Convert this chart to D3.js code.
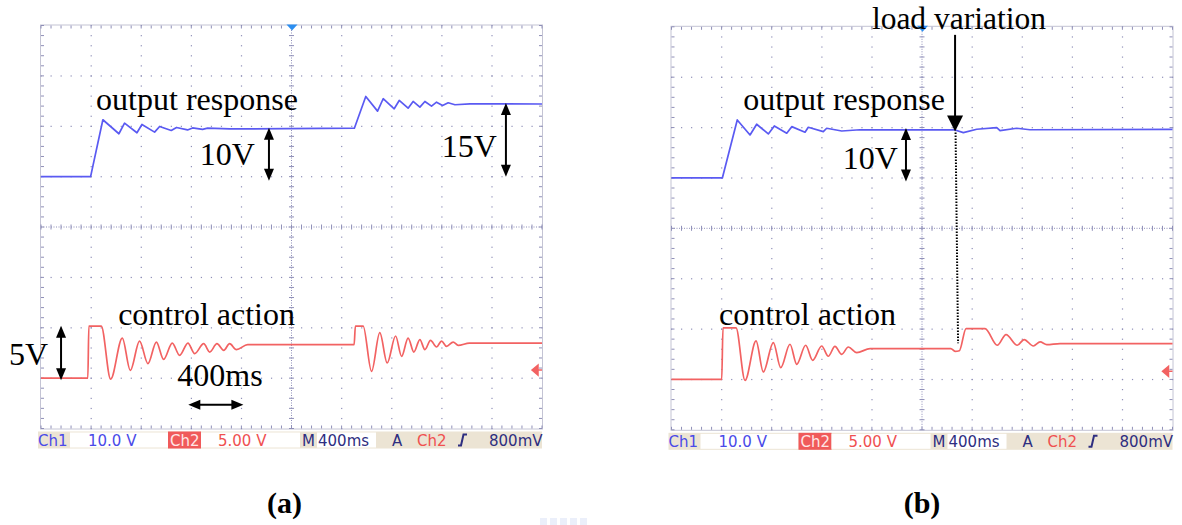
<!DOCTYPE html>
<html>
<head>
<meta charset="utf-8">
<script src="https://cdn.jsdelivr.net/npm/d3@7"></script>
<style>
  body { margin: 0; background: #fff; }
  svg { display: block; }
</style>
</head>
<body>
<svg id="chart"></svg>
<script>
var width = 1182, height = 525;

// time in ms (400 ms/div), ch1 in volts (10 V/div), ch2 in volts (5 V/div)
var ch1TimeA = [0, 396, 494, 622, 667, 766, 806, 907, 947, 1040, 1082, 1170, 1210, 1290, 1330, 1506, 2502, 2593, 2687, 2732, 2820, 2860, 2931, 2971, 3025, 3065, 3118, 3158, 3206, 3251, 3305, 3425, 4000];
var ch1VoltA = [0, 0, 11.29, 8.51, 10.61, 8.71, 10.36, 8.83, 9.96, 9.17, 9.76, 9.27, 9.66, 9.37, 9.62, 9.46, 9.62, 15.91, 13.0, 15.46, 13.47, 15.12, 13.59, 14.92, 13.79, 14.92, 13.99, 14.78, 14.13, 14.66, 14.27, 14.46, 14.42];

var ch2TimeA = [0, 374, 382, 481, 556, 649, 713, 787, 854, 921, 979, 1048, 1107, 1173, 1227, 1299, 1347, 1405, 1459, 1506, 1560, 1650, 2500, 2510, 2572, 2639, 2705, 2764, 2831, 2879, 2931, 2977, 3025, 3065, 3110, 3158, 3198, 3238, 3291, 3331, 3420, 4000];
var ch2VoltA = [0, 0, 5.17, 5.17, -0.1, 3.98, 0.77, 3.68, 1.44, 3.58, 1.87, 3.48, 2.26, 3.48, 2.43, 3.42, 2.59, 3.42, 2.76, 3.42, 2.83, 3.32, 3.32, 5.17, 5.17, 0.67, 4.51, 1.50, 4.18, 2.16, 3.98, 2.59, 3.82, 2.83, 3.75, 3.09, 3.68, 3.15, 3.58, 3.25, 3.48, 3.48];

var ch1TimeB = [0, 406, 525, 627, 680, 773, 821, 920, 960, 1066, 1092, 1212, 1239, 1359, 1505, 2264, 2330, 2437, 2597, 2623, 2756, 2862, 4000];
var ch1VoltB = [0, 0, 11.51, 8.53, 10.66, 8.73, 10.32, 8.87, 10.18, 9.07, 10.06, 9.18, 9.86, 9.32, 9.56, 9.52, 8.99, 9.66, 9.98, 9.38, 9.86, 9.56, 9.62];

var ch2TimeB = [0, 401, 411, 515, 587, 675, 733, 813, 872, 946, 1000, 1071, 1127, 1199, 1252, 1305, 1359, 1412, 1479, 1585, 2230, 2264, 2298, 2352, 2503, 2601, 2671, 2761, 2815, 2889, 2943, 2996, 3102, 4000];
var ch2VoltB = [0, 0, 5.11, 5.11, -0.1, 3.82, 0.74, 3.66, 1.17, 3.49, 1.50, 3.39, 1.90, 3.32, 2.30, 3.29, 2.49, 3.22, 2.66, 3.06, 3.06, 2.79, 2.85, 5.05, 5.05, 3.39, 4.45, 3.39, 3.96, 3.32, 3.72, 3.46, 3.56, 3.56];

// scope settings shown in the status bar
var statusText = ['Ch1', '10.0 V', 'Ch2', '5.00 V', 'M', '400ms', 'A', 'Ch2', '800mV'];
var trigLevel = 0.8; // V on ch2

var svg = d3.select('#chart').attr('width', width).attr('height', height);

var W = 501, H = 403;
var gridCol = '#8f8fb8';
var serif = '"Liberation Serif", "Times New Roman", serif';

var panels = [
  {x0: 41, y0: 25.5, t1: ch1TimeA, v1: ch1VoltA, t2: ch2TimeA, v2: ch2VoltA, tag: '(a)'},
  {x0: 671.5, y0: 26.8, t1: ch1TimeB, v1: ch1VoltB, t2: ch2TimeB, v2: ch2VoltB, tag: '(b)'}
];

function arrowHead(g, x, y, ang, len, wid) {
  var c = Math.cos(ang), s = Math.sin(ang);
  var bx = x - c * len, by = y - s * len;
  var px = -s * wid / 2, py = c * wid / 2;
  g.append('path')
    .attr('d', 'M' + x + ',' + y + 'L' + (bx + px) + ',' + (by + py) + 'L' + (bx - px) + ',' + (by - py) + 'Z')
    .attr('fill', '#000');
}

function arrow(g, x1, y1, x2, y2, both, len, wid) {
  var a = Math.atan2(y2 - y1, x2 - x1);
  var c = Math.cos(a), s = Math.sin(a);
  g.append('line')
    .attr('x1', both ? x1 + c * len * 0.7 : x1).attr('y1', both ? y1 + s * len * 0.7 : y1)
    .attr('x2', x2 - c * len * 0.7).attr('y2', y2 - s * len * 0.7)
    .attr('stroke', '#000').attr('stroke-width', 2);
  arrowHead(g, x2, y2, a, len, wid);
  if (both) arrowHead(g, x1, y1, a + Math.PI, len, wid);
}

function label(g, text, x, y, size, weight, anchor) {
  g.append('text')
    .attr('x', x).attr('y', y)
    .attr('font-family', serif)
    .attr('font-size', size)
    .attr('font-weight', weight || 'normal')
    .attr('text-anchor', anchor || 'start')
    .attr('fill', '#000')
    .text(text);
}

panels.forEach(function (p, pi) {
  var g = svg.append('g');
  var xDiv = d3.scaleLinear().domain([0, 10]).range([p.x0, p.x0 + W]);
  var yDiv = d3.scaleLinear().domain([-4, 4]).range([p.y0 + H, p.y0]);
  var xT = d3.scaleLinear().domain([0, 4000]).range([p.x0, p.x0 + W]);
  var y1 = d3.scaleLinear().domain([-50, 30]).range([p.y0 + H, p.y0]);  // ch1 ground at +1 div
  var y2 = d3.scaleLinear().domain([-5, 35]).range([p.y0 + H, p.y0]);   // ch2 ground at -3 div
  p.xDiv = xDiv; p.yDiv = yDiv;

  // graticule frame
  g.append('rect')
    .attr('x', xDiv(0) - 0.5).attr('y', yDiv(4) - 0.5)
    .attr('width', W + 1).attr('height', H + 1)
    .attr('fill', '#fff')
    .attr('stroke', '#c4c4d4').attr('stroke-width', 1);

  var minor = d3.range(0, 50.01, 1).map(function (d) { return d / 5; });
  var minorY = d3.range(-20, 20.01, 1).map(function (d) { return d / 5; });

  // dotted grid lines
  d3.range(1, 10).forEach(function (i) {
    if (i === 5) return;
    g.selectAll(null).data(minorY).enter().append('rect')
      .attr('x', xDiv(i) - 0.5).attr('y', function (d) { return yDiv(d) - 0.5; })
      .attr('width', 1.2).attr('height', 1.2).attr('fill', gridCol);
  });
  d3.range(-3, 4).forEach(function (j) {
    if (j === 0) return;
    g.selectAll(null).data(minor).enter().append('rect')
      .attr('x', function (d) { return xDiv(d) - 0.5; }).attr('y', yDiv(j) - 0.5)
      .attr('width', 1.2).attr('height', 1.2).attr('fill', gridCol);
  });

  // center cross with ticks
  g.append('line')
    .attr('x1', xDiv(0)).attr('x2', xDiv(10)).attr('y1', yDiv(0)).attr('y2', yDiv(0))
    .attr('stroke', gridCol).attr('stroke-width', 1).attr('stroke-dasharray', '1,1.5');
  g.append('line')
    .attr('x1', xDiv(5)).attr('x2', xDiv(5)).attr('y1', yDiv(-4)).attr('y2', yDiv(4))
    .attr('stroke', gridCol).attr('stroke-width', 1).attr('stroke-dasharray', '1,1.5');
  g.selectAll(null).data(minor).enter().append('line')
    .attr('x1', function (d) { return xDiv(d); }).attr('x2', function (d) { return xDiv(d); })
    .attr('y1', yDiv(0) - 2.5).attr('y2', yDiv(0) + 2.5)
    .attr('stroke', gridCol).attr('stroke-width', 1);
  g.selectAll(null).data(minorY).enter().append('line')
    .attr('y1', function (d) { return yDiv(d); }).attr('y2', function (d) { return yDiv(d); })
    .attr('x1', xDiv(5) - 2.5).attr('x2', xDiv(5) + 2.5)
    .attr('stroke', gridCol).attr('stroke-width', 1);

  // edge ticks
  g.selectAll(null).data(minor).enter().append('path')
    .attr('d', function (d) {
      return 'M' + xDiv(d) + ',' + yDiv(4) + 'v3M' + xDiv(d) + ',' + yDiv(-4) + 'v-3';
    })
    .attr('stroke', gridCol).attr('stroke-width', 1);
  g.selectAll(null).data(minorY).enter().append('path')
    .attr('d', function (d) {
      return 'M' + xDiv(0) + ',' + yDiv(d) + 'h3M' + xDiv(10) + ',' + yDiv(d) + 'h-3';
    })
    .attr('stroke', gridCol).attr('stroke-width', 1);

  // traces
  var line1 = d3.line()
    .x(function (d, i) { return xT(p.t1[i]); })
    .y(function (d) { return y1(d); });
  var line2 = d3.line()
    .x(function (d, i) { return xT(p.t2[i]); })
    .y(function (d) { return y2(d); })
    .curve(d3.curveMonotoneX);

  g.append('path').datum(p.v1)
    .attr('d', line1).attr('fill', 'none')
    .attr('stroke', '#5a5af2').attr('stroke-width', 1.7).attr('stroke-linejoin', 'round');
  g.append('path').datum(p.v2)
    .attr('d', line2).attr('fill', 'none')
    .attr('stroke', '#f26262').attr('stroke-width', 1.7).attr('stroke-linejoin', 'round');

  // trigger position marker (top) and trigger level marker (right)
  var xc = xT(2000);
  g.append('path')
    .attr('d', 'M' + (xc - 5) + ',' + (p.y0 - 1) + 'h11l-5.5,6z')
    .attr('fill', '#2b8ef0');
  var ty = y2(trigLevel);
  var xr = xDiv(10);
  g.append('path')
    .attr('d', 'M' + (xr - 10) + ',' + ty + 'l6,-5v10z M' + (xr - 5) + ',' + ty + 'h5')
    .attr('fill', '#f26262').attr('stroke', '#f26262').attr('stroke-width', 1.5);

  // status bar
  var sb = g.append('g').attr('transform', 'translate(' + p.x0 + ',' + (p.y0 + H) + ')');
  sb.append('rect').attr('x', -3).attr('y', 3).attr('width', W + 3).attr('height', 17).attr('fill', '#ece4d4');
  sb.append('rect').attr('x', 29).attr('y', 4).attr('width', 98).attr('height', 15).attr('fill', '#fff');
  sb.append('rect').attr('x', 127).attr('y', 3).attr('width', 33).attr('height', 17).attr('fill', '#f05a5a');
  sb.append('rect').attr('x', 160).attr('y', 4).attr('width', 99).attr('height', 15).attr('fill', '#fff');
  sb.append('rect').attr('x', 276).attr('y', 4).attr('width', 59).attr('height', 15).attr('fill', '#fff');
  var sx = [-3, 47, 129, 177, 261, 277, 351, 376, 448];
  var sc = ['#4a4ae8', '#4a4ae8', '#ffe6e6', '#f05050', '#2e2e80', '#2e2e80', '#2e2e80', '#f05050', '#2e2e80'];
  sb.selectAll(null).data(statusText).enter().append('text')
    .attr('x', function (d, i) { return sx[i]; })
    .attr('y', 17.5)
    .attr('font-family', '"DejaVu Sans", Verdana, sans-serif')
    .attr('font-size', 15)
    .attr('fill', function (d, i) { return sc[i]; })
    .text(function (d) { return d; });
  sb.append('path')
    .attr('d', 'M417,17h3l2.5,-11h3.5')
    .attr('fill', 'none').attr('stroke', '#2e2e80').attr('stroke-width', 2);

  // panel caption
  label(svg, p.tag, xDiv(pi === 0 ? 4.86 : 5.0), 513, 30, 'bold', 'middle');
});

// faint watermark fragment at the bottom edge
svg.selectAll(null).data([0, 1, 2, 3, 4]).enter().append('rect')
  .attr('x', function (d) { return 540 + d * 10; }).attr('y', 518)
  .attr('width', 7).attr('height', 7)
  .attr('fill', '#c6d2f2').attr('opacity', 0.35);

// annotations, placed in screen divisions
var A = panels[0], B = panels[1];
label(svg, 'output response', A.xDiv(1.1), A.yDiv(2.32), 32);
label(svg, '10V', A.xDiv(3.17), A.yDiv(1.23), 32);
arrow(svg, A.xDiv(4.55), A.yDiv(1.97), A.xDiv(4.55), A.yDiv(0.92), true, 12, 10);
label(svg, '15V', A.xDiv(8.0), A.yDiv(1.39), 32);
arrow(svg, A.xDiv(9.28), A.yDiv(2.46), A.xDiv(9.28), A.yDiv(1.0), true, 12, 10);
label(svg, '5V', A.xDiv(-0.64), A.yDiv(-2.74), 32);
arrow(svg, A.xDiv(0.4), A.yDiv(-1.96), A.xDiv(0.4), A.yDiv(-3.04), true, 12, 10);
label(svg, 'control action', A.xDiv(1.54), A.yDiv(-1.95), 32);
label(svg, '400ms', A.xDiv(2.72), A.yDiv(-3.16), 32);
arrow(svg, A.xDiv(2.94), A.yDiv(-3.53), A.xDiv(4.04), A.yDiv(-3.53), true, 12, 10);

label(svg, 'load variation', B.xDiv(4.0), 28.5, 31.5);
arrow(svg, B.xDiv(5.66), B.yDiv(3.84), B.xDiv(5.66), B.yDiv(1.92), false, 16, 16);
svg.append('line')
  .attr('x1', B.xDiv(5.67)).attr('y1', B.yDiv(1.9))
  .attr('x2', B.xDiv(5.72)).attr('y2', B.yDiv(-2.28))
  .attr('stroke', '#000').attr('stroke-width', 2).attr('stroke-dasharray', '1.5,1.5');
label(svg, 'output response', B.xDiv(1.43), B.yDiv(2.35), 32);
label(svg, '10V', B.xDiv(3.42), B.yDiv(1.18), 32);
arrow(svg, B.xDiv(4.68), B.yDiv(1.99), B.xDiv(4.68), B.yDiv(0.93), true, 12, 10);
label(svg, 'control action', B.xDiv(0.95), B.yDiv(-1.92), 32);
</script>
</body>
</html>
